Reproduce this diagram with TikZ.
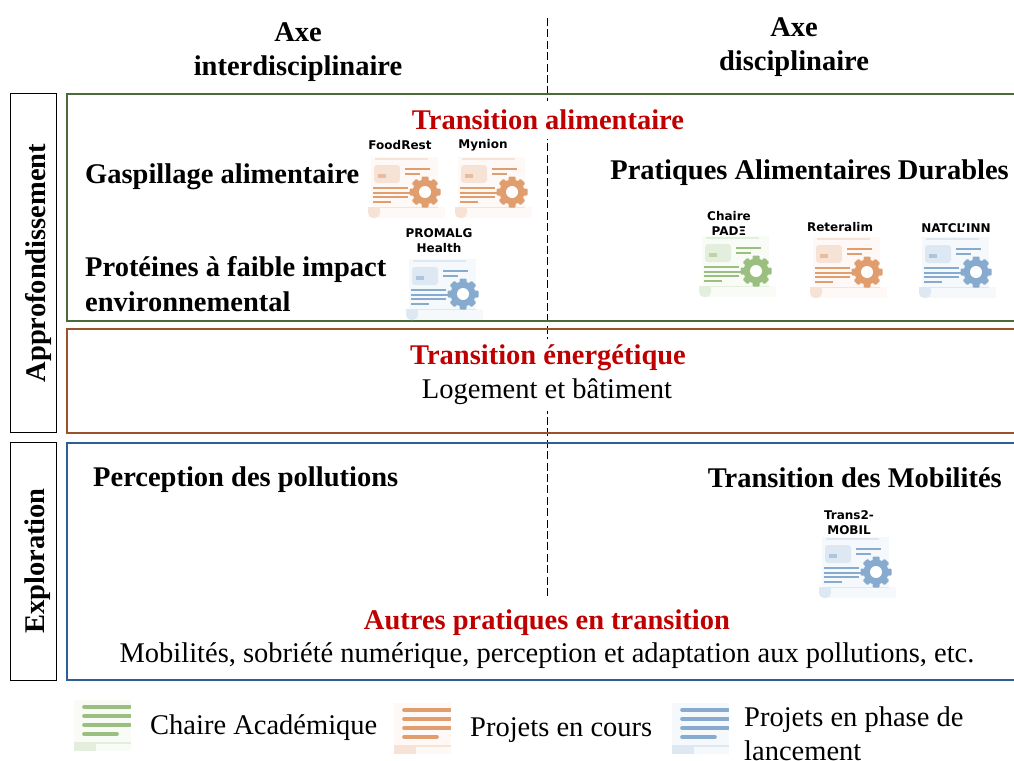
\documentclass[tikz,border=0pt]{standalone}
\usepackage{fontspec}
\setmainfont{Liberation Serif}
\newfontfamily\iconfont{DejaVu Sans}
\definecolor{leafmain}{HTML}{9BBF80}
\definecolor{leafsoft}{HTML}{E4EEDC}
\definecolor{leafpale}{HTML}{F8FBF6}
\definecolor{rustmain}{HTML}{E09D6E}
\definecolor{rustsoft}{HTML}{F7E3D6}
\definecolor{rustpale}{HTML}{FEF9F6}
\definecolor{skymain}{HTML}{86ABCF}
\definecolor{skysoft}{HTML}{DDE8F3}
\definecolor{skypale}{HTML}{F6F9FC}
\definecolor{framegreen}{HTML}{4A6B38}
\definecolor{framebrown}{HTML}{9A5228}
\definecolor{frameblue}{HTML}{2F5F95}
\definecolor{titlered}{HTML}{C00000}
\tikzset{
  axetext/.style={font=\fontsize{28.5pt}{34pt}\selectfont\bfseries,align=center,inner sep=0pt},
  themetext/.style={font=\fontsize{28.5pt}{35pt}\selectfont\bfseries,align=left,anchor=west,inner sep=0pt},
  redtext/.style={font=\fontsize{28.5pt}{34pt}\selectfont\bfseries,text=titlered,inner sep=0pt,fill=white,minimum height=38pt},
  plaintext/.style={font=\fontsize{28.5pt}{34pt}\selectfont,inner sep=0pt},
  legendtext/.style={font=\fontsize{28.5pt}{34pt}\selectfont,align=left,anchor=west,inner sep=0pt},
  sidebox/.style={draw=black,line width=1.6pt},
  sidetext/.style={font=\fontsize{28.5pt}{34pt}\selectfont\bfseries,rotate=90,inner sep=0pt},
  projtext/.style={font=\iconfont\fontsize{12pt}{15pt}\selectfont\bfseries,align=center,inner sep=0pt},
  pics/docicon/.style n args={3}{code={
    \fill[#3] (3,0) rectangle (70,50);
    \draw[#2,line width=1.2pt] (7,2) -- (60,2);
    \fill[#2,rounded corners=3pt] (6,8) rectangle (32,26);
    \fill[#1!55!#2] (10,17) rectangle (18,21);
    \draw[#1,line width=2pt] (37,12) -- (62,12) (37,17) -- (52,17);
    \draw[#1,line width=2pt] (5,31) -- (40,31) (5,35.5) -- (43,35.5) (5,40) -- (40,40) (5,44.5) -- (23,44.5);
    \fill[#3] (3,50) rectangle (77,61);
    \fill[#2] (3,49.5) rectangle (70,51);
    \fill[#2,rounded corners=5pt] (0,50) rectangle (12,61);
    \fill[#2] (0,50) rectangle (12,55);
    \foreach \a in {0,45,...,315}
      \fill[#1,rounded corners=1pt,rotate around={\a:(57,35)}] (53.5,19.5) rectangle (60.5,28);
    \fill[#1] (57,35) circle (12.5);
    \fill[white] (57,35) circle (6);
  }},
  pics/docstub/.style n args={3}{code={
    \fill[#3] (0,0) rectangle (57,42);
    \fill[#2] (0,42) rectangle (57,51);
    \fill[#3] (22,44) rectangle (57,51);
    \foreach \y in {7,16,25}
      \draw[#1,line width=3.6pt,line cap=round] (10,\y) -- (56,\y);
    \draw[#1,line width=3.6pt,line cap=round] (10,34) -- (43,34);
    \fill[white] (57,0) rectangle (60,51);
  }}
}
\begin{document}
\begin{tikzpicture}[x=1pt,y=-1pt]
    \useasboundingbox (0,0) rectangle (1014,760);
    % axes
    \node[axetext] (axeinter) at (298,52) {Axe\\interdisciplinaire};
    \node[axetext] (axedisc) at (794,47) {Axe\\disciplinaire};
    \coordinate (septop) at (547,18);
    \coordinate (sepbot) at (547,598);
    \draw[dash pattern=on 8pt off 3.4pt,line width=0.9pt] (septop) -- (sepbot);
    % frames
    \draw[framegreen,line width=1.6pt] (1014,94) -- (67,94) -- (67,321) -- (1014,321);
    \draw[framebrown,line width=1.6pt] (1014,329) -- (67,329) -- (67,433) -- (1014,433);
    \draw[frameblue,line width=1.6pt] (1014,443) -- (67,443) -- (67,680) -- (1014,680);
    \node[sidebox,minimum width=46pt,minimum height=339pt] (boxappro) at (33.5,263) {};
    \node[sidebox,minimum width=46pt,minimum height=238pt] (boxexplo) at (33.5,561.5) {};
    \node[sidetext] (appro) at (38,263) {Approfondissement};
    \node[sidetext] (explo) at (38,561) {Exploration};
    % themes
    \node[redtext] (alim) at (548,120) {Transition alimentaire};
    \node[themetext] (gaspi) at (85,177) {Gaspillage alimentaire};
    \node[themetext] (prot) at (85,284) {Protéines à faible impact\\environnemental};
    \node[themetext,anchor=east] (durable) at (1009,173) {Pratiques Alimentaires Durables};
    \node[redtext] (energie) at (548,358) {Transition énergétique};
    \node[plaintext,fill=white,minimum height=38pt] (logement) at (547,392) {Logement et bâtiment};
    \node[themetext] (pollu) at (93,480) {Perception des pollutions};
    \node[themetext,anchor=east] (mobil) at (1002,478) {Transition des Mobilités};
    \node[redtext] (autres) at (547,623) {Autres pratiques en transition};
    \node[plaintext] (mobi) at (547,656) {Mobilités, sobriété numérique, perception et adaptation aux pollutions, etc.};
    % projects
    \pic at (368,157) {docicon={rustmain}{rustsoft}{rustpale}};
    \pic at (455,157) {docicon={rustmain}{rustsoft}{rustpale}};
    \pic at (406,259) {docicon={skymain}{skysoft}{skypale}};
    \pic at (699,236) {docicon={leafmain}{leafsoft}{leafpale}};
    \pic at (810,237) {docicon={rustmain}{rustsoft}{rustpale}};
    \pic at (919,237) {docicon={skymain}{skysoft}{skypale}};
    \pic at (819,537) {docicon={skymain}{skysoft}{skypale}};
    \node[projtext] (foodrest) at (400,145) {FoodRest};
    \node[projtext] (mynion) at (483,145) {Mynion};
    \node[projtext] (promalg) at (439,241) {PROMALG\\Health};
    \node[projtext] (padeproj) at (729,223) {Chaire\\PADΞ};
    \node[projtext] (reteralim) at (840,227) {Reteralim};
    \node[projtext] (natcl) at (956,228) {NATCL’INN};
    \node[projtext] (trans) at (849,523) {Trans2-\\MOBIL};
    % legend
    \pic at (74,700) {docstub={leafmain}{leafsoft}{leafpale}};
    \pic at (394,703) {docstub={rustmain}{rustsoft}{rustpale}};
    \pic at (672,703) {docstub={skymain}{skysoft}{skypale}};
    \node[legendtext] (chaire) at (150,728) {Chaire Académique};
    \node[legendtext] (encours) at (470,730) {Projets en cours};
    \node[legendtext] (lancement) at (744,733.5) {Projets en phase de\\lancement};
\end{tikzpicture}
\end{document}
